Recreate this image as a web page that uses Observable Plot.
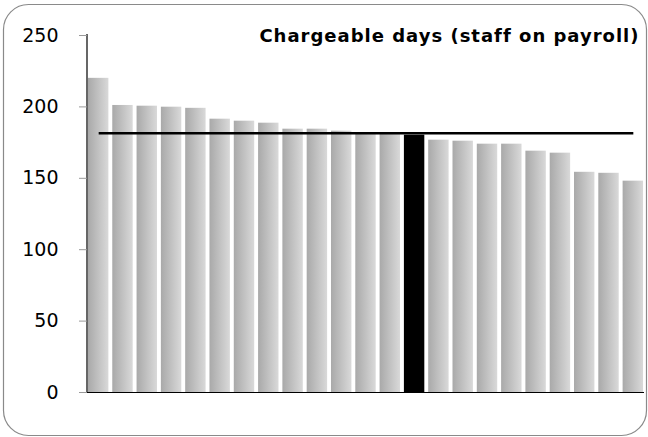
<!DOCTYPE html>
<html><head><meta charset="utf-8">
<script src="https://cdn.jsdelivr.net/npm/d3@7"></script>
<script src="https://cdn.jsdelivr.net/npm/@observablehq/plot@0.6"></script>
<style>
html,body{margin:0;padding:0;background:#fff}
#chart{width:648px;height:437px}
</style>
</head><body><div id="chart"></div>
<script>
// ---- data ----
const categories = ["S01","S02","S03","S04","S05","S06","S07","S08","S09","S10","S11","S12","S13","S14","S15","S16","S17","S18","S19","S20","S21","S22","S23"];
const values = [220, 201, 200.5, 199.8, 199, 191.4, 190, 188.6, 184.4, 184.4, 183, 181.5, 181, 180.2, 176.7, 176, 173.9, 173.9, 169, 167.6, 154.2, 153.5, 148];
const highlighted = ["S14"];
const averageValue = [181.6];
const yTicks = [0, 50, 100, 150, 200, 250];
const yDomain = [0, 250];
const titleText = ["Chargeable days (staff on payroll)"];

const data = categories.map((c, i) => ({id: c, value: values[i], hi: highlighted.includes(c)}));
const avgLine = [{x1: categories[0], x2: categories[categories.length - 1], y: averageValue[0]}];

const NS = "http://www.w3.org/2000/svg";
function el(name, attrs) {
  const e = document.createElementNS(NS, name);
  for (const k in attrs) e.setAttribute(k, attrs[k]);
  return e;
}
// gradient defs + rounded outer border
function decor(index, scales, vals, dims) {
  const g = el("g", {});
  const defs = el("defs", {});
  const lg = el("linearGradient", {id: "barGrad", x1: "0", x2: "1", y1: "0", y2: "0"});
  lg.appendChild(el("stop", {offset: "0%", "stop-color": "#a9a9a9"}));
  lg.appendChild(el("stop", {offset: "100%", "stop-color": "#d9d9d9"}));
  defs.appendChild(lg);
  g.appendChild(defs);
  g.appendChild(el("rect", {x: 3.5, y: 4.5, width: dims.width - 5, height: dims.height - 6, rx: 25, ry: 25, fill: "none", stroke: "#8a8a8a", "stroke-width": 1.2}));
  return g;
}
// vertical y-axis line at the left edge of the frame
function yAxisLine(index, scales, vals, dims) {
  return el("line", {x1: dims.marginLeft, x2: dims.marginLeft, y1: dims.marginTop - 1, y2: dims.height - dims.marginBottom, stroke: "black", "stroke-width": 1.2});
}

const chart = Plot.plot({
  width: 648,
  height: 437,
  marginLeft: 87,
  marginRight: 4,
  marginTop: 35,
  marginBottom: 45,
  style: {fontFamily: "'DejaVu Sans', Verdana, sans-serif", fontSize: "19px", background: "white", color: "black"},
  x: {type: "band", domain: categories, paddingInner: 0.16, paddingOuter: 0.04, round: false, axis: null},
  y: {domain: yDomain, axis: null},
  marks: [
    decor,
    Plot.barY(data, {filter: d => !d.hi, x: "id", y: "value", fill: "url(#barGrad)"}),
    Plot.barY(data, {filter: d => d.hi, x: "id", y: "value", fill: "black"}),
    Plot.link(avgLine, {x1: "x1", x2: "x2", y1: "y", y2: "y", stroke: "black", strokeWidth: 2.5}),
    Plot.ruleY([0], {stroke: "black", strokeWidth: 1.2}),
    yAxisLine,
    Plot.axisY({ticks: yTicks, tickSize: 8, tickPadding: 21, stroke: "#999", fill: "black", label: null, fontSize: 19}),
    Plot.text(titleText, {frameAnchor: "top-right", dx: -5, dy: 6, lineAnchor: "bottom", text: d => d, fontWeight: "bold", fontSize: 18, fill: "black"})
  ]
});
d3.select(chart).selectAll("text").filter(function() { return this.textContent === titleText[0]; }).attr("letter-spacing", "1px");
document.getElementById("chart").appendChild(chart);
</script>
</body></html>
